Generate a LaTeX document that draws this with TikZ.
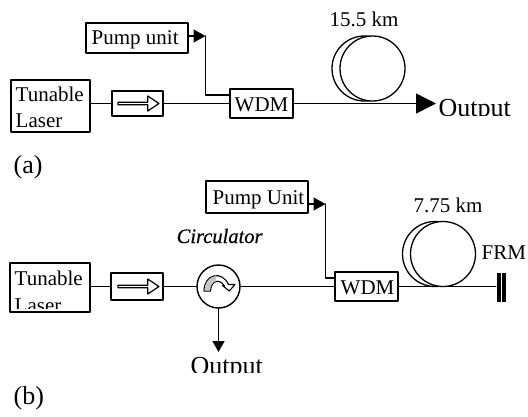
\documentclass[tikz,border=0pt]{standalone}
\usepackage{fontspec}
\setmainfont{Liberation Serif}
\newfontface\circfont{Liberation Serif Italic}[FakeBold=0.5]
\usetikzlibrary{arrows.meta,shapes.arrows}
\tikzset{
  boxa/.style={draw,line width=1.5pt,inner sep=0pt},
  isoarrow/.style={draw,line width=1.2pt,single arrow,inner sep=0pt,minimum height=41pt,minimum width=15pt,single arrow head extend=3pt,single arrow tip angle=68},
  coila/.style={draw,circle,line width=1.3pt,minimum size=65pt,inner sep=0pt},
  txta/.style={anchor=base west,inner sep=0pt,font=\fontsize{21}{24}\selectfont},
  txtb/.style={anchor=base west,inner sep=0pt,font=\fontsize{26}{30}\selectfont}
}
\begin{document}
\begin{tikzpicture}[line cap=round,line join=round,x=1pt,y=-1pt,line width=1.4pt]
\useasboundingbox (0,0) rectangle (528,416);
% (a)
\node [boxa,minimum width=102pt,minimum height=30pt] (pumpa) at (137,38) {};
\node [txta] (pumpatxt) at (91,44.5) {Pump unit};
\node [boxa,minimum width=79pt,minimum height=52pt] (lasera) at (50.5,106) {};
\node [txta] (laseratxt) at (15,101) {Tunable};
\node [txta] (laseratxtb) at (15,127) {Laser};
\node [boxa,minimum width=51pt,minimum height=25pt] (isoa) at (137.5,103.5) {};
\node [isoarrow] (isoaarrow) at (137.5,103.5) {};
\node [boxa,minimum width=63pt,minimum height=29pt] (wdma) at (261.5,103.5) {};
\node [txta] (wdmatxt) at (234,111) {WDM};
\node [coila] (coilaback) at (364.5,68.5) {};
\node [coila,fill=white] (coilafront) at (372.5,68.5) {};
\node [txta] (lena) at (329,26) {15.5 km};
\coordinate (outa) at (436,103.5);
\coordinate (pumpain) at (wdma.west|-0,95);
\coordinate (pumpabend) at (205.5,95);
\coordinate (pumpatop) at (205.5,36);
\begin{scope}
\clip (430,80) rectangle (528,115);
\node [txtb] (outatxt) at (438,116.5) {Output};
\end{scope}
\draw (lasera.east|-isoa) -- (isoa);
\draw (isoa) -- (wdma);
\draw [-{Triangle[length=20pt,width=20pt]}] (wdma) -- (outa);
\draw (pumpatop) -- (pumpabend) -- (pumpain);
\draw [-{Triangle[length=12pt,width=13pt]}] (pumpa.east|-pumpatop) -- (pumpatop);
\node [txtb] (capa) at (13,173) {(a)};
% (b)
\node [boxa,minimum width=102pt,minimum height=32pt] (pumpb) at (257,197) {};
\node [txta] (pumpbtxt) at (212,204.5) {Pump Unit};
\node [boxa,minimum width=80pt,minimum height=49pt] (laserb) at (50,287.5) {};
\node [txta] (laserbtxt) at (14,285) {Tunable};
\begin{scope}
\clip (12,290) rectangle (88,308);
\node [txta] (laserbtxtb) at (14,312.5) {Laser};
\end{scope}
\node [boxa,minimum width=52pt,minimum height=27pt] (isob) at (137,286.5) {};
\node [isoarrow] (isobarrow) at (137.5,286.5) {};
\node [draw,circle,line width=1.4pt,minimum size=43pt,inner sep=0pt] (circ) at (218.5,286.5) {};
\node [txta,font=\fontsize{20.5}{24}\selectfont\circfont] (circtxt) at (176,243) {Circulator};
\node [boxa,minimum width=63pt,minimum height=29pt] (wdmb) at (366.5,286.5) {};
\node [txta] (wdmbtxt) at (340,294) {WDM};
\node [coila] (coilbback) at (435,254) {};
\node [coila,fill=white] (coilbfront) at (443,254) {};
\node [txta] (lenb) at (413,212) {7.75 km};
\node [txta] (frm) at (481,259) {FRM};
\node [fill=black,minimum width=4pt,minimum height=29pt,inner sep=0pt] (frma) at (498.5,287.5) {};
\node [fill=black,minimum width=4pt,minimum height=29pt,inner sep=0pt] (frmb) at (503.5,287.5) {};
\coordinate (pumpbin) at (wdmb.west|-0,278);
\coordinate (pumpbbend) at (325.5,278);
\coordinate (pumpbtop) at (325.5,204);
\coordinate (outb) at (218.5,352);
\begin{scope}
\clip (180,345) rectangle (270,372);
\node [txtb] (outbtxt) at (190,374) {Output};
\end{scope}
\draw (laserb.east|-circ) -- (isob);
\draw (isob) -- (circ);
\draw (circ) -- (wdmb);
\draw (wdmb) -- (frma.west|-wdmb);
\draw (pumpbtop) -- (pumpbbend) -- (pumpbin);
\draw [-{Triangle[length=12pt,width=13pt]}] (pumpb.east|-pumpbtop) -- (pumpbtop);
\draw [-{Triangle[length=11pt,width=12pt]}] (circ) -- (outb);
% curved arrow inside circulator
\draw [line width=1.1pt,fill=white] (204,291) .. controls (204,274) and (222,270) .. (228.5,284.5) -- (235,284.5) -- (229.3,291) -- (222.5,285.5) -- (224.5,286) .. controls (220,278.5) and (211,280) .. (210.5,291) -- cycle;
\fill [gray!45] (204.7,290.5) .. controls (205,280) and (211,277) .. (216,276.8) -- (216,281.2) .. controls (213,281.5) and (210,285) .. (209.9,290.5) -- cycle;
\node [txtb] (capb) at (13,404) {(b)};
\end{tikzpicture}
\end{document}
